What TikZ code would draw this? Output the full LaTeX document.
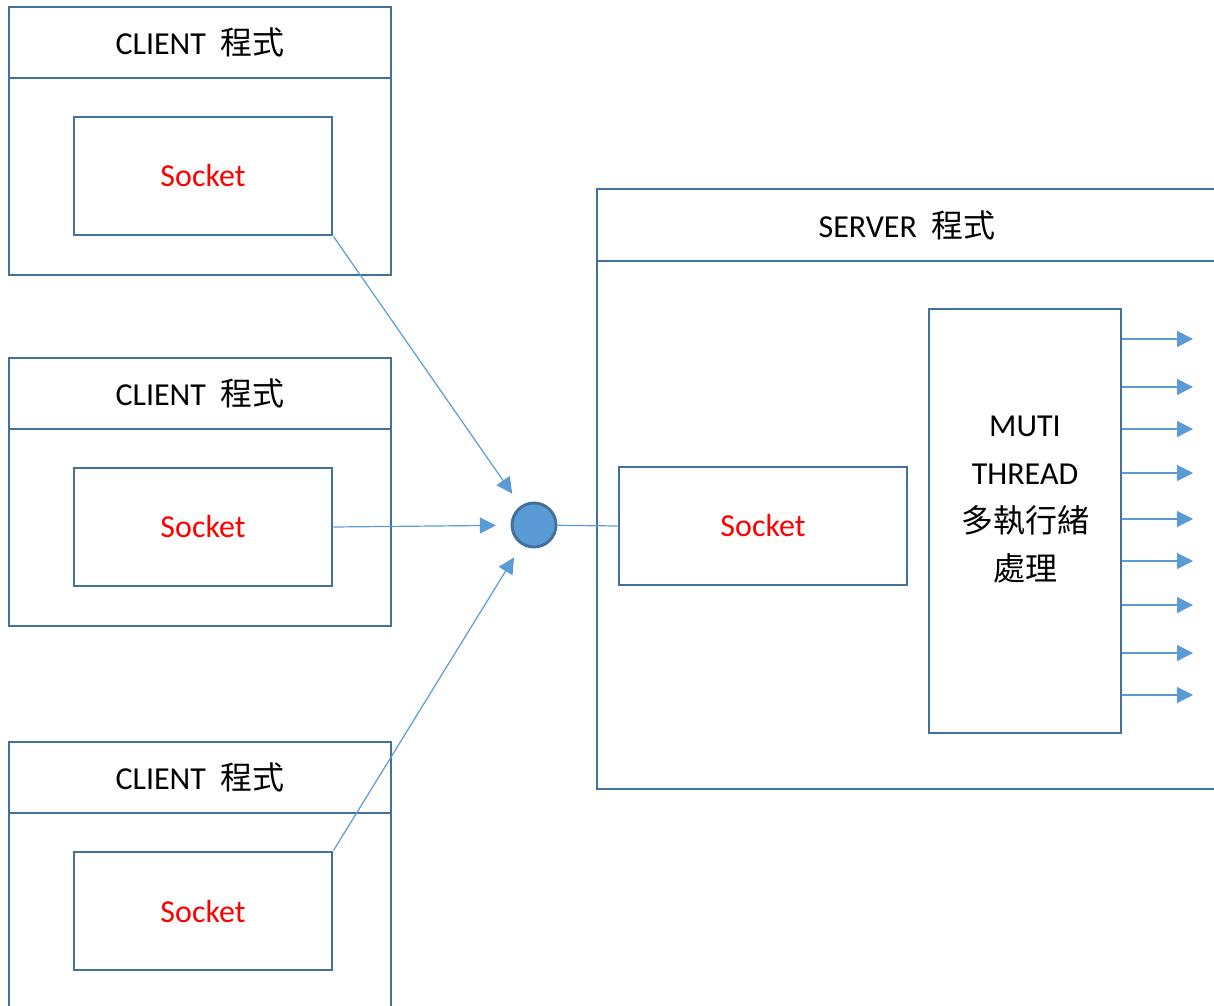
\documentclass[tikz,border=0pt]{standalone}
\usepackage{fontspec}
\setmainfont{Carlito}
\newfontfamily\cjk{Noto Sans CJK TC}
\usepackage{tikz}
\usepackage{xcolor}
\usetikzlibrary{arrows.meta}
\definecolor{frameblue}{HTML}{41719C}
\definecolor{lineblue}{HTML}{5B9BD5}

\begin{document}
\begin{tikzpicture}[x=0.75pt,y=-0.75pt,>={Triangle[length=12pt,width=12pt]},
                    font=\fontsize{24}{36}\selectfont,
                    box/.style={rectangle,draw=frameblue,line width=2.2pt,inner sep=0pt},
                    client frame/.style={box,minimum width=286.5pt,minimum height=201pt},
                    client head/.style={box,minimum width=286.5pt,minimum height=53.25pt},
                    sock/.style={box,minimum width=193.5pt,minimum height=88.5pt,text=red},
                    conn/.style={color=lineblue,line width=0.9pt}]

  \useasboundingbox (0,0) rectangle (1214,1006);

  % client programs
  \node[client frame] (c1) at (200,141) {};
  \node[client head] (h1) at (200,42.5) {CLIENT\ \ {\cjk 程式}};
  \node[sock] (s1) at (203,176) {Socket};

  \node[client frame] (c2) at (200,492) {};
  \node[client head] (h2) at (200,393.5) {CLIENT\ \ {\cjk 程式}};
  \node[sock] (s2) at (203,527) {Socket};

  \node[client frame] (c3) at (200,876) {};
  \node[client head] (h3) at (200,777.5) {CLIENT\ \ {\cjk 程式}};
  \node[sock] (s3) at (203,911) {Socket};

  % server program
  \node[box,minimum width=465pt,minimum height=450pt] (srv) at (907,489) {};
  \node[box,minimum width=465pt,minimum height=54pt] (hs) at (907,225) {SERVER\ \ {\cjk 程式}};
  \node[sock,minimum width=216pt] (ss) at (763,526) {Socket};
  \node[box,minimum width=144pt,minimum height=318pt] (thr) at (1025,521) {};
  \node[align=center] (thrtext) at (1025,500) {MUTI\\THREAD\\{\cjk 多執行緒}\\{\cjk 處理}};

  \node[circle,draw=frameblue,fill=lineblue,line width=2.2pt,minimum size=33pt,inner sep=0pt] (hub) at (534,525) {};

  \path[conn,shorten >=11pt]
    (s1.south east) edge[->] (hub)
    (s2.east) edge[->] (hub)
    (s3.north east) edge[->] (hub);
  \draw[conn] (hub) -- (ss.west);

  \foreach \y in {339,387,429,473,519,561,605,653,695} {
    \coordinate (o\y) at (1193,\y);
    \draw[conn,->] (thr.east |- o\y) -- (o\y);
  }
\end{tikzpicture}
\end{document}
